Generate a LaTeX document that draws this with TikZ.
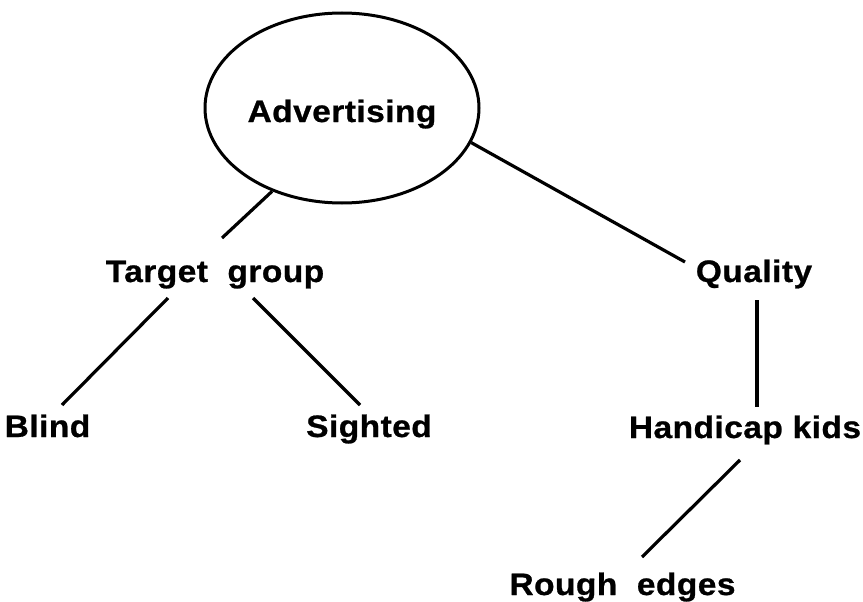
\documentclass[tikz,border=0pt]{standalone}
\usepackage{fontspec}
\setmainfont{Liberation Sans}[BoldFeatures={FakeStretch=1.08,LetterSpace=1.5,FakeBold=0.8}]
\usetikzlibrary{shapes.geometric}
\begin{document}
\begin{tikzpicture}[x=1pt,y=-1pt,
  link/.style={line width=3.2pt},
  term/.style={anchor=base,inner sep=0pt,text height=23pt,text depth=7pt,
    font=\fontsize{31}{37}\selectfont\bfseries},
  hub/.style={ellipse,draw,line width=3pt,minimum width=274pt,minimum height=190pt,
    inner sep=0pt,text height=30pt,text depth=2pt,
    font=\fontsize{31}{37}\selectfont\bfseries}]
  \useasboundingbox (0,0) rectangle (863,602);
  \fill[white] (0,0) rectangle (863,602);

  % concept nodes
  \node[hub] (adv) at (342,108) {Advertising};
  \node[term] (tg) at (215,282) {Target~~group};
  \node[term] (ql) at (754,282) {Quality};
  \node[term] (bl) at (47.5,437) {Blind};
  \node[term] (si) at (369,437) {Sighted};
  \node[term] (hk) at (745,438) {Handicap kids};
  \node[term] (re) at (622.5,595) {Rough~~edges};

  % connectors
  \draw[link] (adv.230) -- ([shift={(7,-44)}]tg.base);
  \draw[link] (adv.345) -- ([shift={(-69,-20)}]ql.base);
  \draw[link] ([shift={(-47,16)}]tg.base) -- ([shift={(14.5,-32)}]bl.base);
  \draw[link] ([shift={(38,16)}]tg.base) -- ([shift={(-9,-32)}]si.base);
  \draw[link] ([shift={(3,18)}]ql.base) -- ([shift={(12,-31)}]hk.base);
  \draw[link] ([shift={(-5,22)}]hk.base) -- ([shift={(19.5,-38)}]re.base);
\end{tikzpicture}
\end{document}
